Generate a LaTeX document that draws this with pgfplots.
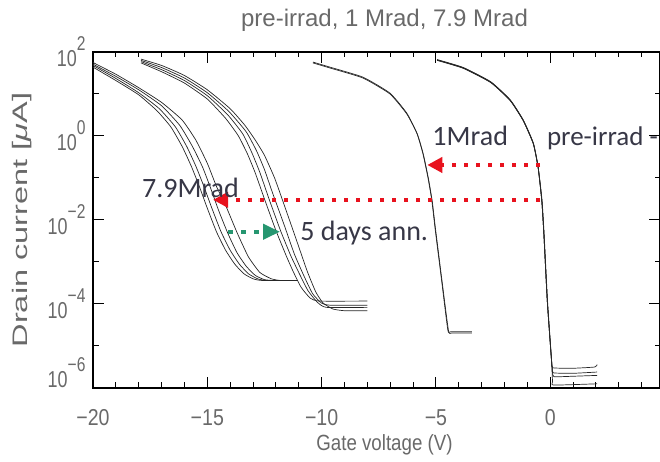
\documentclass[border=0pt]{standalone}
\usepackage{fontspec}
\setmainfont{Liberation Sans}
\newfontfamily\calib{Carlito}
\usepackage{pgfplots}
\pgfplotsset{compat=1.18}
\usetikzlibrary{arrows.meta}

\definecolor{idl}{RGB}{105,105,105}
\definecolor{annot}{RGB}{55,55,70}
\definecolor{arrred}{RGB}{232,18,30}
\definecolor{arrgreen}{RGB}{38,150,112}

% IDL-like tick labels: narrow digits, big raised exponent
\newcommand{\sci}[1]{\scalebox{0.78}[1]{10\raisebox{16pt}{\fontsize{20}{20}\selectfont #1}}}
\newcommand{\xl}[1]{\scalebox{0.85}[1]{#1}}

\begin{document}
\begin{tikzpicture}
\useasboundingbox (-93pt,-74pt) rectangle (567pt,388pt);
\begin{axis}[
  at={(0pt,0pt)}, anchor=south west,
  scale only axis, width=567pt, height=336pt,
  xmin=-20, xmax=4.8, ymin=-6, ymax=2,
  axis lines=box, clip=false,
  xtick pos=both, ytick pos=both, tick align=inside,
  xticklabel pos=lower, yticklabel pos=left,
  xtick={-20,-15,...,0}, minor xtick={-19,-18,-17,-16,-14,-13,-12,-11,-9,-8,-7,-6,-4,-3,-2,-1,1,2,3,4},
  xticklabels={\xl{−20},\xl{−15},\xl{−10},\xl{−5},\xl{0}},
  ytick={-6,-4,...,2}, minor ytick={-5,-3,-1,1},
  yticklabels={\raisebox{0pt}[0pt][0pt]{\sci{−6}},\sci{−4},\sci{−2},\sci{0},\sci{2}},
  tick label style={font=\fontsize{23}{23}\selectfont, text=idl},
  xticklabel style={yshift=-18pt},
  yticklabel style={xshift=-4pt},
  axis line style={line width=1.2pt, black},
  tick style={black, line width=1pt},
  major tick length=11pt, minor tick length=5.5pt,
  title={\fontsize{24}{24}\selectfont pre-irrad, 1 Mrad, 7.9 Mrad},
  title style={at={(axis description cs:0.5,1)}, anchor=base, yshift=19pt, xshift=8pt, text=idl},
  xlabel={\xl{\fontsize{22}{22}\selectfont Gate voltage (V)}},
  xlabel style={at={(axis description cs:0.5,0)}, anchor=base, yshift=-62pt, xshift=8pt, text=idl},
  ylabel={\scalebox{1.55}[1]{\fontsize{21}{21}\selectfont Drain current [\textit{μ}A]}},
  every axis y label/.style={at={(axis description cs:-0.1252,0.5)}, rotate=90, anchor=center, text=idl},
  cycle list={{black!85}},
  every axis plot post/.append style={mark=none, line width=0.7pt, smooth, tension=0.3},
]
% 7.9 Mrad
\addplot coordinates {(-20,1.64) (-19,1.32) (-18,0.98) (-17.2,0.60) (-16.6,0.22) (-16.1,-0.25) (-15.7,-0.72) (-15.35,-1.20) (-15.0,-1.72) (-14.6,-2.28) (-14.2,-2.72) (-13.8,-3.05) (-13.4,-3.28) (-13.0,-3.40) (-12.6,-3.44) (-11.05,-3.44)};
\addplot coordinates {(-20,1.68) (-19,1.37) (-18,1.03) (-17.1,0.65) (-16.4,0.22) (-15.9,-0.25) (-15.5,-0.72) (-15.15,-1.20) (-14.8,-1.72) (-14.4,-2.28) (-14.0,-2.72) (-13.6,-3.05) (-13.2,-3.28) (-12.8,-3.40) (-12.4,-3.44) (-11.05,-3.44)};
\addplot coordinates {(-20,1.71) (-19,1.42) (-18,1.10) (-17,0.72) (-16.2,0.25) (-15.65,-0.25) (-15.2,-0.75) (-14.85,-1.25) (-14.5,-1.78) (-14.1,-2.32) (-13.7,-2.78) (-13.3,-3.10) (-12.9,-3.32) (-12.5,-3.42) (-12.1,-3.44) (-11.05,-3.44)};
\addplot coordinates {(-20,1.75) (-19,1.47) (-18,1.15) (-17,0.80) (-16.1,0.38) (-15.5,-0.10) (-15.0,-0.65) (-14.6,-1.20) (-14.2,-1.65) (-13.7,-2.30) (-13.2,-2.88) (-12.7,-3.25) (-12.2,-3.40) (-11.8,-3.44) (-11.05,-3.44)};
% 5 days annealing
\addplot coordinates {(-17.9,1.74) (-17,1.53) (-16,1.26) (-15,0.88) (-14.2,0.42) (-13.65,0.01) (-13.25,-0.42) (-12.91,-0.87) (-12.5,-1.50) (-12.0,-2.25) (-11.55,-2.85) (-11.25,-3.22) (-10.9,-3.60) (-10.5,-3.86) (-10.1,-3.93) (-8.0,-3.93)};
\addplot coordinates {(-17.9,1.77) (-17,1.58) (-16,1.32) (-15,0.96) (-14.1,0.50) (-13.45,0.05) (-13.05,-0.40) (-12.7,-0.87) (-12.3,-1.50) (-11.8,-2.25) (-11.35,-2.85) (-11.0,-3.25) (-10.6,-3.68) (-10.2,-3.95) (-9.8,-4.08) (-8.0,-4.08)};
\addplot coordinates {(-17.9,1.80) (-17,1.63) (-16,1.38) (-15,1.03) (-14.05,0.58) (-13.3,0.10) (-12.85,-0.35) (-12.5,-0.80) (-12.15,-1.35) (-11.65,-2.10) (-11.2,-2.80) (-10.8,-3.30) (-10.4,-3.75) (-10.0,-3.98) (-9.6,-4.03) (-8.0,-4.03)};
\addplot coordinates {(-17.9,1.83) (-17,1.68) (-16,1.44) (-15,1.10) (-14,0.65) (-13.35,0.25) (-12.9,-0.10) (-12.5,-0.46) (-12.05,-1.01) (-11.6,-1.70) (-11.1,-2.48) (-10.63,-3.22) (-10.25,-3.72) (-9.93,-3.98) (-9.5,-4.12) (-9.0,-4.16) (-8.0,-4.16)};
% 1 Mrad
\addplot coordinates {(-10.38,1.76) (-9.64,1.64) (-8.19,1.40) (-7.01,1.02) (-6.27,0.54) (-5.83,0.06) (-5.57,-0.42) (-5.35,-0.99) (-5.18,-1.54) (-5.04,-2.19) (-4.75,-3.45) (-4.48,-4.62) (-4.35,-4.66) (-3.43,-4.66)};
\addplot coordinates {(-10.38,1.74) (-9.64,1.62) (-8.19,1.38) (-7.01,1.00) (-6.27,0.52) (-5.81,0.04) (-5.55,-0.44) (-5.33,-1.01) (-5.16,-1.56) (-5.02,-2.21) (-4.73,-3.47) (-4.45,-4.64) (-4.30,-4.69) (-3.43,-4.69)};
% pre-irrad
\addplot coordinates {(-4.95,1.81) (-3.8,1.62) (-2.6,1.28) (-1.75,0.85) (-1.18,0.37) (-0.74,-0.18) (-0.53,-0.75) (-0.37,-1.54) (-0.28,-2.33) (-0.13,-3.93) (0.05,-5.30) (0.07,-5.42) (0.12,-5.52) (1.0,-5.53) (1.95,-5.50) (2.05,-5.44)};
\addplot coordinates {(-4.95,1.80) (-3.8,1.61) (-2.6,1.27) (-1.75,0.84) (-1.18,0.36) (-0.74,-0.19) (-0.53,-0.76) (-0.37,-1.55) (-0.28,-2.34) (-0.13,-3.94) (0.05,-5.32) (0.09,-5.55) (0.14,-5.64) (1.0,-5.65) (2.05,-5.62)};
\addplot coordinates {(-4.95,1.82) (-3.8,1.63) (-2.6,1.29) (-1.75,0.86) (-1.18,0.38) (-0.74,-0.17) (-0.53,-0.74) (-0.36,-1.53) (-0.27,-2.32) (-0.12,-3.92) (0.06,-5.35) (0.10,-5.62) (0.16,-5.73) (1.0,-5.72) (2.05,-5.70)};
\addplot coordinates {(-4.95,1.81) (-3.8,1.62) (-2.6,1.28) (-1.75,0.85) (-1.18,0.37) (-0.74,-0.18) (-0.53,-0.75) (-0.37,-1.54) (-0.28,-2.33) (-0.13,-3.93) (0.06,-5.40) (0.10,-5.85) (0.16,-5.93) (2.05,-5.90)};

% frame top edge, drawn again so it is sure to show
\draw[black, line width=1.2pt] (rel axis cs:0,1) -- (rel axis cs:1,1);

% annotations
\draw[arrred, line width=4pt, dash pattern=on 4pt off 8pt, -{Triangle[length=15pt,width=15pt]}]
  (axis cs:-0.44,-0.69) -- (axis cs:-5.38,-0.69);
\draw[arrred, line width=4pt, dash pattern=on 4pt off 8pt, -{Triangle[length=15pt,width=15pt]}]
  (axis cs:-0.44,-1.52) -- (axis cs:-14.75,-1.52);
\draw[arrgreen, line width=4.5pt, dash pattern=on 4.5pt off 8.5pt, -{Triangle[length=17pt,width=15pt]}]
  (axis cs:-14.09,-2.28) -- (axis cs:-11.82,-2.28);
\node[anchor=base west, inner sep=0, text=annot, font=\calib\fontsize{28}{28}\selectfont] at (axis cs:-5.16,-0.22) {1Mrad};
\node[anchor=base west, inner sep=0, text=annot, font=\calib\fontsize{27}{27}\selectfont] at (axis cs:-0.15,-0.22) {pre-irrad -};
\node[anchor=base west, inner sep=0, text=annot, font=\calib\fontsize{28}{28}\selectfont] at (axis cs:-17.86,-1.47) {7.9Mrad};
\node[anchor=base west, inner sep=0, text=annot, font=\calib\fontsize{28}{28}\selectfont] at (axis cs:-10.94,-2.50) {5 days ann.};
\end{axis}
\end{tikzpicture}
\end{document}
